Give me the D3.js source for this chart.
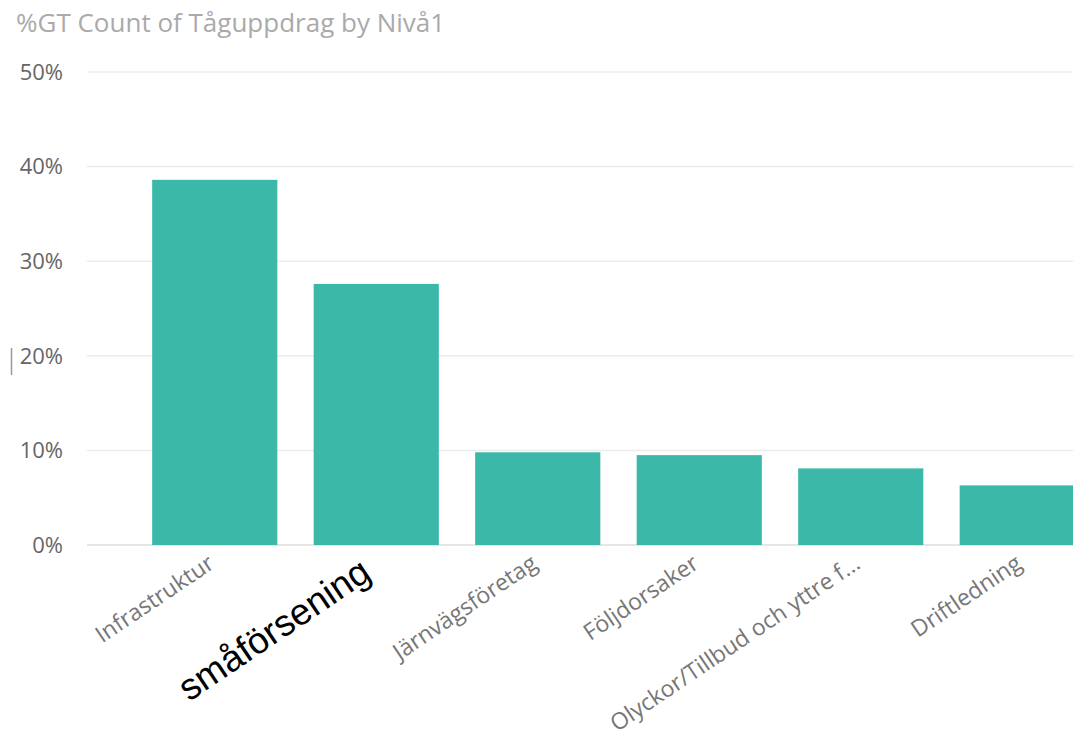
<!DOCTYPE html>
<html><head><meta charset="utf-8">
<script src="https://cdn.jsdelivr.net/npm/d3@7"></script>
<style>html,body{margin:0;padding:0;background:#fff;overflow:hidden}</style>
</head><body>
<svg id="chart" width="1073" height="737"></svg>
<script>
const title = "%GT Count of Tåguppdrag by Nivå1";
const categories = ["Infrastruktur","småförsening-slot","Järnvägsföretag","Följdorsaker","Olyckor/Tillbud och yttre f...","Driftledning"];
const labels = ["Infrastruktur","","Järnvägsföretag","Följdorsaker","Olyckor/Tillbud och yttre f...","Driftledning"];
const values = [0.386, 0.276, 0.098, 0.095, 0.081, 0.063];
const yTicks = [0, 0.1, 0.2, 0.3, 0.4, 0.5];
const annotation = "småförsening";

const svg = d3.select("#chart");
const font = "'Open Sans', 'Noto Sans', sans-serif";

const x = d3.scaleBand().domain(categories).range([134, 1103]).paddingInner(0.225).paddingOuter(0.1125);
const y = d3.scaleLinear().domain([0, 0.5]).range([545, 72]);

svg.append("text").attr("x", 16).attr("y", 32).attr("font-family", font)
  .attr("font-size", 26).attr("fill", "#aaaaaa").text(title);

// gridlines
svg.append("g").selectAll("line").data(yTicks).join("line")
  .attr("x1", 87).attr("x2", 1073)
  .attr("y1", d => y(d)).attr("y2", d => y(d))
  .attr("stroke", d => d === 0 ? "#dedede" : "#ececec").attr("stroke-width", 1.5);

// y labels
svg.append("g").selectAll("text").data(yTicks).join("text")
  .attr("x", 63).attr("y", d => y(d)).attr("dy", "0.35em")
  .attr("text-anchor", "end").attr("font-family", font).attr("font-size", 22)
  .attr("fill", "#666").text(d => d3.format(".0%")(d));

// bars
svg.append("g").selectAll("rect").data(values).join("rect")
  .attr("x", (d, i) => x(categories[i])).attr("width", x.bandwidth())
  .attr("y", d => y(d)).attr("height", d => y(0) - y(d))
  .attr("fill", "#3cb8a9");

// x labels
svg.append("g").selectAll("text").data(labels).join("text")
  .attr("transform", (d, i) => `translate(${x(categories[i]) + x.bandwidth()/2 + 1},567) rotate(-34)`)
  .attr("text-anchor", "end").attr("font-family", font).attr("font-size", 23)
  .attr("fill", "#777").text(d => d);

// annotation
svg.append("text").attr("transform", "translate(189,702) rotate(-34)")
  .attr("font-family", "'Liberation Sans', Arial, sans-serif").attr("font-size", 37)
  .attr("fill", "#000").text(annotation);

// small cursor mark
svg.append("line").attr("x1", 11.5).attr("x2", 11.5).attr("y1", 348).attr("y2", 375)
  .attr("stroke", "#999").attr("stroke-width", 1.5);
</script>
</body></html>
